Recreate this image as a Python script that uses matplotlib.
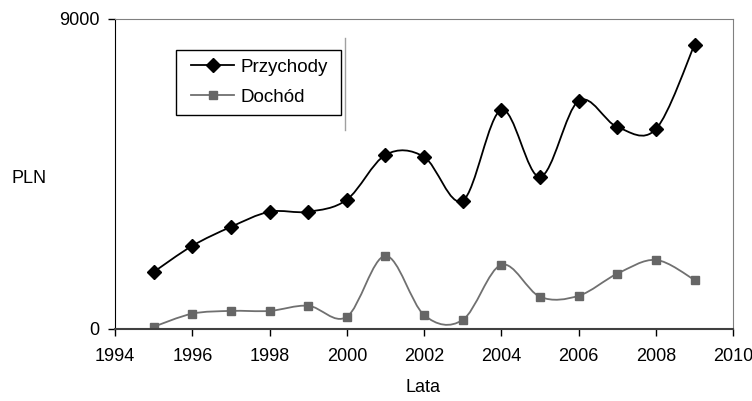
import matplotlib.pyplot as plt
import numpy as np
from matplotlib.path import Path
from matplotlib.patches import PathPatch, Rectangle
from matplotlib.lines import Line2D

plt.rcParams['font.family'] = ['Liberation Sans', 'DejaVu Sans']

lata = [1995, 1996, 1997, 1998, 1999, 2000, 2001, 2002, 2003, 2004, 2005, 2006, 2007, 2008, 2009]
przychody = [1650, 2410, 2960, 3400, 3400, 3750, 5050, 4990, 3720, 6360, 4410, 6620, 5860, 5800, 8250]
dochod = [60, 440, 520, 520, 670, 350, 2120, 400, 260, 1860, 930, 960, 1600, 2000, 1420]


def smooth_path(x, y):
    # Excel-style smoothed line: cubic bezier through every point
    x = np.asarray(x, float)
    y = np.asarray(y, float)
    n = len(x)
    verts = [(x[0], y[0])]
    codes = [Path.MOVETO]
    for i in range(n - 1):
        i0 = max(i - 1, 0)
        i3 = min(i + 2, n - 1)
        c1 = (x[i] + (x[i + 1] - x[i0]) / 6, y[i] + (y[i + 1] - y[i0]) / 6)
        c2 = (x[i + 1] - (x[i3] - x[i]) / 6, y[i + 1] - (y[i3] - y[i]) / 6)
        verts += [c1, c2, (x[i + 1], y[i + 1])]
        codes += [Path.CURVE4] * 3
    return Path(verts, codes)


fig = plt.figure(figsize=(7.52, 4.01), dpi=100)
ax = fig.add_axes([0.153, 0.180, 0.822, 0.773])

ax.add_patch(PathPatch(smooth_path(lata, przychody), fill=False, edgecolor='black', lw=1.3))
ax.add_patch(PathPatch(smooth_path(lata, dochod), fill=False, edgecolor='#707070', lw=1.3))
ax.plot(lata, przychody, ls='none', marker='D', ms=7, color='black')
ax.plot(lata, dochod, ls='none', marker='s', ms=6.2, color='#666666')

ax.set_xlim(1994, 2010)
ax.set_ylim(0, 9000)
ax.set_xticks(range(1994, 2011, 2))
ax.set_yticks([0, 9000])
ax.tick_params(direction='out', length=5, width=1, labelsize=13, colors='black')
ax.tick_params(axis='x', pad=9)
ax.tick_params(axis='y', pad=6)

for s in ['top', 'right']:
    ax.spines[s].set_color('#808080')
ax.spines['left'].set_color('black')
ax.spines['bottom'].set_color('#404040')
ax.spines['bottom'].set_linewidth(1.5)

ax.set_xlabel('Lata', fontsize=13)
ax.xaxis.set_label_coords(0.498, -0.19)
ax.xaxis.label.set_va('center')
ax.set_ylabel('PLN', fontsize=13, rotation=0, va='center', ha='center')
ax.yaxis.set_label_coords(-0.139, 0.484)

# thin vertical line right of the legend
ax.plot([0.372, 0.372], [0.642, 0.939], transform=ax.transAxes, color='#a0a0a0', lw=1)

# legend frame drawn separately so its padding matches
ax.add_patch(Rectangle((0.0987, 0.690), 0.267, 0.21, transform=ax.transAxes,
                       fill=False, edgecolor='black', lw=1, zorder=5))

handles = [
    Line2D([], [], color='black', lw=1.3, marker='D', ms=7),
    Line2D([], [], color='#707070', lw=1.3, marker='s', ms=6.2, mfc='#666666', mec='#666666'),
]
leg = ax.legend(handles, ['Przychody', 'Dochód'], loc='upper left',
                bbox_to_anchor=(0.123, 0.872), borderaxespad=0, borderpad=0,
                frameon=False, fontsize=13.5, handlelength=2.3,
                labelspacing=0.7, handletextpad=0.32)

fig.savefig('out.png', dpi=100)
